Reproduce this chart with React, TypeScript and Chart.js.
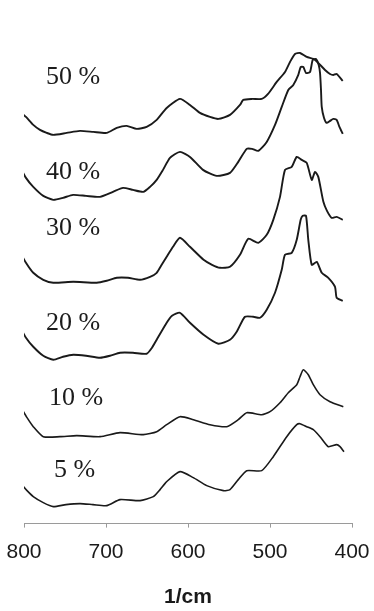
import React, { useEffect, useRef } from "react";
import { Chart, registerables } from "chart.js";

Chart.register(...registerables);

// Wavenumbers (1/cm) and relative absorbance (stacked, arbitrary units)
const wn50 = [805, 797.6, 788.7, 780.5, 772.3, 764.3, 747.9, 731.7, 715.5, 699.1, 686.9, 674.8, 662.6, 650.4, 638.2, 626.0, 609.8, 597.6, 585.4, 573.2, 563.0, 548.8, 536.6, 532.6, 522.0, 510.1, 502.4, 491.8, 481.7, 475.6, 469.5, 463.4, 455.2, 447.2, 442.3, 432.9, 426.8, 422.8, 418.7, 411.3];
const ab50 = [4.11, 4.06, 3.98, 3.93, 3.90, 3.88, 3.90, 3.92, 3.91, 3.90, 3.95, 3.97, 3.94, 3.96, 4.03, 4.15, 4.24, 4.18, 4.10, 4.06, 4.04, 4.08, 4.18, 4.23, 4.24, 4.24, 4.29, 4.41, 4.51, 4.61, 4.69, 4.70, 4.66, 4.64, 4.61, 4.53, 4.49, 4.48, 4.49, 4.42];

const wn40 = [805, 797.6, 788.7, 776.5, 764.3, 752.4, 740.2, 724.4, 707.3, 691.5, 679.3, 667.1, 654.5, 646.3, 638.2, 630.5, 622.0, 609.8, 597.6, 581.7, 565.0, 548.8, 538.7, 528.4, 522.0, 514.3, 504.0, 493.9, 485.7, 477.7, 471.6, 465.5, 462.6, 459.4, 456.1, 451.2, 447.9, 443.9, 440.6, 439.0, 437.8, 436.9, 434.1, 430.9, 426.8, 422.8, 418.7, 415.3, 411.3];
const ab40 = [3.56, 3.45, 3.36, 3.27, 3.23, 3.25, 3.28, 3.27, 3.26, 3.31, 3.35, 3.33, 3.31, 3.36, 3.43, 3.53, 3.65, 3.71, 3.66, 3.53, 3.47, 3.50, 3.61, 3.74, 3.74, 3.72, 3.81, 3.98, 4.16, 4.33, 4.38, 4.48, 4.56, 4.56, 4.50, 4.51, 4.63, 4.64, 4.58, 4.50, 4.33, 4.16, 4.05, 4.00, 4.02, 4.04, 4.03, 3.96, 3.89];

const wn30 = [805, 797.6, 788.7, 776.5, 764.3, 739.9, 711.3, 699.1, 686.9, 673.2, 658.5, 646.3, 638.2, 632.1, 626.0, 618.3, 609.8, 597.6, 581.0, 570.7, 561.0, 548.8, 536.6, 526.5, 514.3, 504.0, 496.0, 487.8, 481.7, 473.5, 467.4, 461.3, 455.2, 449.1, 445.1, 441.1, 434.9, 430.5, 424.8, 418.7, 411.3];
const ab30 = [2.71, 2.60, 2.50, 2.43, 2.40, 2.41, 2.40, 2.42, 2.45, 2.45, 2.43, 2.46, 2.50, 2.58, 2.66, 2.76, 2.85, 2.76, 2.63, 2.58, 2.55, 2.56, 2.68, 2.84, 2.80, 2.88, 3.03, 3.26, 3.53, 3.56, 3.66, 3.63, 3.60, 3.43, 3.51, 3.46, 3.21, 3.12, 3.05, 3.06, 3.03];

const wn20 = [805, 797.6, 788.7, 776.5, 764.3, 752.4, 739.9, 724.4, 707.3, 695.1, 682.9, 667.1, 650.4, 643.9, 638.2, 626.0, 619.5, 609.8, 597.6, 581.0, 563.0, 548.8, 540.6, 530.5, 520.4, 512.2, 504.0, 493.9, 485.7, 481.7, 473.5, 467.4, 462.6, 460.1, 456.1, 453.3, 449.1, 443.0, 436.9, 428.9, 420.7, 418.7, 411.3];
const ab20 = [1.96, 1.85, 1.76, 1.67, 1.63, 1.66, 1.68, 1.67, 1.65, 1.67, 1.70, 1.70, 1.69, 1.75, 1.83, 2.00, 2.07, 2.10, 2.00, 1.88, 1.79, 1.83, 1.91, 2.06, 2.06, 2.05, 2.13, 2.30, 2.53, 2.68, 2.70, 2.83, 3.03, 3.07, 3.07, 2.83, 2.58, 2.61, 2.50, 2.45, 2.36, 2.25, 2.22];

const wn10 = [802.8, 796.3, 788.7, 776.5, 756.1, 735.7, 707.3, 682.9, 654.5, 638.2, 626.0, 609.8, 593.5, 573.2, 552.8, 538.7, 528.4, 510.1, 500.0, 487.8, 477.7, 467.4, 463.4, 459.4, 453.3, 447.2, 439.0, 426.8, 410.6];
const ab10 = [1.14, 1.05, 0.96, 0.86, 0.86, 0.87, 0.86, 0.90, 0.88, 0.91, 0.98, 1.06, 1.03, 0.98, 0.96, 1.03, 1.10, 1.08, 1.11, 1.20, 1.30, 1.38, 1.46, 1.53, 1.48, 1.38, 1.28, 1.21, 1.16];

const wn5 = [802.8, 796.3, 788.7, 776.5, 764.3, 748.8, 731.7, 715.9, 699.1, 682.9, 658.5, 642.3, 634.1, 626.0, 609.8, 593.5, 577.2, 556.9, 548.8, 538.7, 528.4, 510.1, 496.0, 479.6, 467.4, 463.4, 455.2, 447.2, 439.0, 428.9, 418.7, 414.6, 409.8];
const ab5 = [0.38, 0.32, 0.26, 0.20, 0.16, 0.18, 0.19, 0.18, 0.17, 0.23, 0.22, 0.26, 0.33, 0.41, 0.51, 0.45, 0.37, 0.32, 0.33, 0.43, 0.52, 0.52, 0.66, 0.86, 0.98, 0.99, 0.96, 0.93, 0.86, 0.76, 0.78, 0.76, 0.71];

const seriesLabels = ["50 %", "40 %", "30 %", "20 %", "10 %", "5 %"];
const labelWn = [773.2, 773.2, 773.2, 773.2, 769.5, 763.4];
const labelAb = [4.46, 3.51, 2.95, 2.0, 1.25, 0.52];

const xTicks = [800, 700, 600, 500, 400];

const allWn = [wn50, wn40, wn30, wn20, wn10, wn5];
const allAb = [ab50, ab40, ab30, ab20, ab10, ab5];

const labelPlugin = {
  id: "spectrumLabels",
  afterDatasetsDraw(chart: any) {
    const { ctx, scales } = chart;
    ctx.save();
    ctx.font = '26px "Liberation Serif", "Times New Roman", serif';
    ctx.fillStyle = "#1c1c1c";
    ctx.textAlign = "left";
    ctx.textBaseline = "middle";
    seriesLabels.forEach((t, i) => {
      ctx.fillText(t, scales.x.getPixelForValue(labelWn[i]), scales.y.getPixelForValue(labelAb[i]));
    });
    ctx.restore();
  },
};

export default function App() {
  const ref = useRef<HTMLCanvasElement | null>(null);
  useEffect(() => {
    if (!ref.current) return;
    const datasets = allWn.map((wn, i) => ({
      label: seriesLabels[i],
      data: wn.map((x, j) => ({ x, y: allAb[i][j] })),
      borderColor: "#1a1a1a",
      borderWidth: i >= 4 ? 1.6 : 1.9,
      pointRadius: 0,
      tension: 0.2,
      fill: false,
    }));
    const chart = new Chart(ref.current, {
      type: "line",
      data: { datasets },
      options: {
        animation: false,
        responsive: false,
        layout: { padding: { left: 24, right: 22, top: 10, bottom: 1 } },
        plugins: { legend: { display: false }, tooltip: { enabled: false }, title: { display: false } },
        scales: {
          x: {
            type: "linear",
            reverse: true,
            min: 400,
            max: 800,
            afterBuildTicks: (axis: any) => {
              axis.ticks = xTicks.map((v) => ({ value: v }));
            },
            afterFit: (axis: any) => {
              axis.paddingLeft = 0;
              axis.paddingRight = 0;
            },
            grid: { drawOnChartArea: false, drawTicks: true, tickLength: 4, color: "#9a9a9a" },
            border: { display: true, color: "#9a9a9a", width: 1 },
            ticks: {
              color: "#1a1a1a",
              padding: 12,
              maxRotation: 0,
              font: { family: '"Liberation Sans", Arial, sans-serif', size: 21 },
            },
            title: {
              display: true,
              text: "1/cm",
              color: "#1a1a1a",
              padding: { top: 8, bottom: 0 },
              font: { family: '"Liberation Sans", Arial, sans-serif', size: 21, weight: "bold" },
            },
          },
          y: { display: false, min: -0.01, max: 5.13 },
        },
      },
      plugins: [labelPlugin],
    });
    return () => chart.destroy();
  }, []);
  return (
    <div style={{ position: "absolute", left: 0, top: 0, width: 374, height: 611, background: "#fff" }}>
      <canvas ref={ref} width={374} height={611} style={{ display: "block" }} />
    </div>
  );
}
